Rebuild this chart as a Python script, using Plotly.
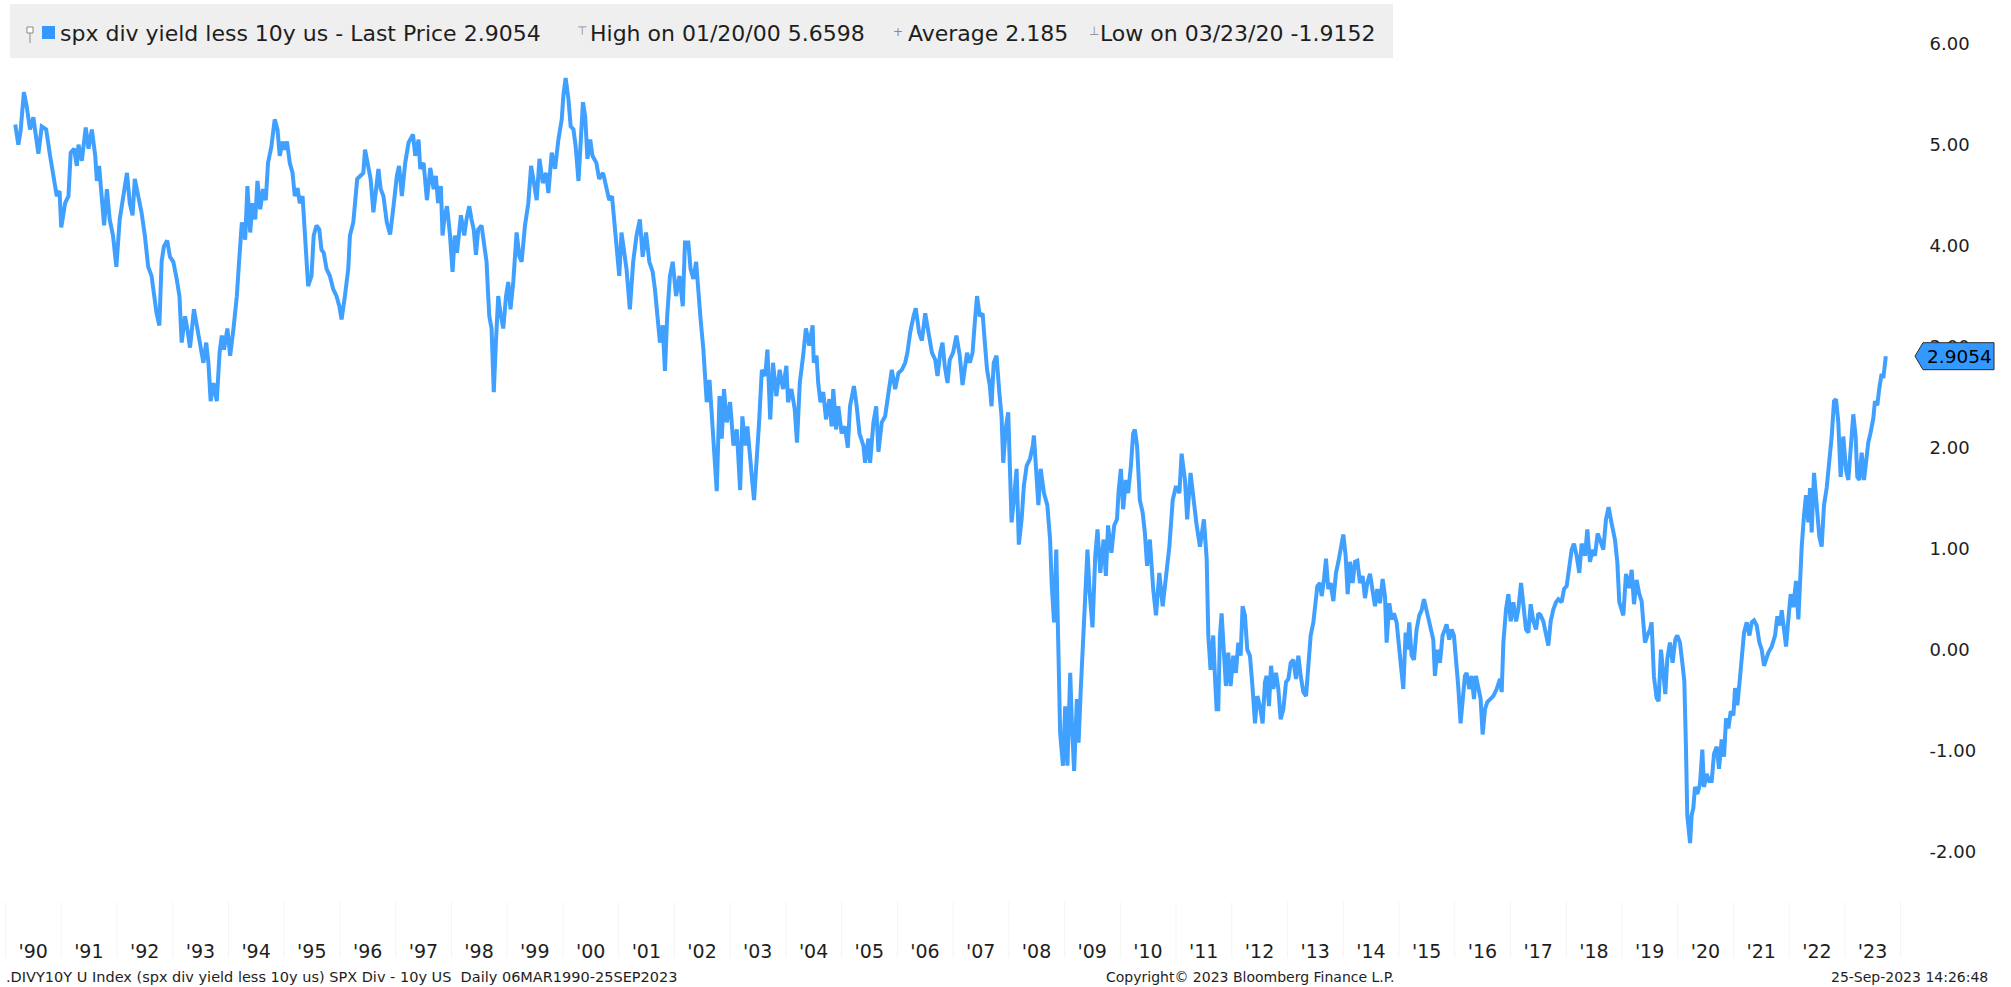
import pandas as pd
import plotly.graph_objects as go

# ---------------- data (decimal year, value) ----------------
seg_1990_1997 = [
    (1990.175, 5.20), (1990.23, 5.00), (1990.27, 5.13), (1990.33, 5.52), (1990.38, 5.38),
    (1990.44, 5.15), (1990.50, 5.27), (1990.55, 5.03), (1990.59, 4.91), (1990.65, 5.18),
    (1990.73, 5.15), (1990.80, 4.89), (1990.89, 4.62), (1990.92, 4.49), (1990.97, 4.54),
    (1991.00, 4.18), (1991.07, 4.42), (1991.13, 4.49), (1991.17, 4.92), (1991.23, 4.96),
    (1991.28, 4.79), (1991.31, 5.00), (1991.37, 4.84), (1991.44, 5.17), (1991.49, 4.96),
    (1991.55, 5.15), (1991.61, 4.89), (1991.64, 4.64), (1991.68, 4.79), (1991.73, 4.49),
    (1991.77, 4.20), (1991.82, 4.56), (1991.87, 4.26), (1991.93, 4.10), (1991.99, 3.79),
    (1992.05, 4.26), (1992.11, 4.49), (1992.18, 4.72), (1992.23, 4.42), (1992.28, 4.30),
    (1992.32, 4.66), (1992.38, 4.49), (1992.44, 4.33), (1992.50, 4.10), (1992.56, 3.79),
    (1992.62, 3.70), (1992.67, 3.50), (1992.71, 3.33), (1992.76, 3.21), (1992.80, 3.84),
    (1992.84, 3.99), (1992.90, 4.05), (1992.95, 3.89), (1993.01, 3.84), (1993.07, 3.67),
    (1993.12, 3.50), (1993.16, 3.04), (1993.22, 3.30), (1993.26, 3.18), (1993.31, 2.99),
    (1993.38, 3.37), (1993.44, 3.18), (1993.49, 3.01), (1993.55, 2.84), (1993.60, 3.04),
    (1993.64, 2.84), (1993.68, 2.46), (1993.73, 2.64), (1993.79, 2.46), (1993.84, 2.94),
    (1993.88, 3.11), (1993.92, 2.97), (1993.98, 3.18), (1994.03, 2.91), (1994.09, 3.18),
    (1994.15, 3.50), (1994.19, 3.84), (1994.24, 4.23), (1994.30, 4.06), (1994.34, 4.59),
    (1994.39, 4.13), (1994.43, 4.42), (1994.48, 4.26), (1994.52, 4.64), (1994.57, 4.36),
    (1994.62, 4.56), (1994.67, 4.45), (1994.71, 4.82), (1994.77, 4.98), (1994.83, 5.25),
    (1994.88, 5.15), (1994.92, 4.89), (1994.97, 5.03), (1995.01, 4.95), (1995.05, 5.03),
    (1995.10, 4.82), (1995.15, 4.72), (1995.19, 4.49), (1995.24, 4.57), (1995.28, 4.42),
    (1995.33, 4.49), (1995.37, 4.16), (1995.40, 3.89), (1995.43, 3.60), (1995.49, 3.70),
    (1995.53, 4.10), (1995.58, 4.20), (1995.63, 4.16), (1995.67, 3.96), (1995.71, 3.93),
    (1995.76, 3.77), (1995.82, 3.70), (1995.88, 3.57), (1995.94, 3.50), (1995.99, 3.40),
    (1996.03, 3.27), (1996.09, 3.50), (1996.15, 3.77), (1996.18, 4.10), (1996.24, 4.23),
    (1996.31, 4.66), (1996.36, 4.69), (1996.42, 4.72), (1996.45, 4.95), (1996.50, 4.82),
    (1996.55, 4.66), (1996.60, 4.33), (1996.65, 4.56), (1996.69, 4.76), (1996.73, 4.56),
    (1996.78, 4.49), (1996.84, 4.23), (1996.90, 4.11), (1996.96, 4.39), (1997.02, 4.69),
    (1997.06, 4.79), (1997.11, 4.49), (1997.17, 4.82), (1997.23, 5.02), (1997.31, 5.10),
    (1997.35, 4.89), (1997.41, 5.05),
]

seg_1997_2004 = [
    (1997.44, 4.76), (1997.50, 4.82), (1997.56, 4.45), (1997.62, 4.77), (1997.68, 4.56),
    (1997.72, 4.69), (1997.76, 4.42), (1997.81, 4.59), (1997.84, 4.10), (1997.88, 4.30),
    (1997.92, 4.39), (1997.97, 4.13), (1998.02, 3.74), (1998.06, 4.10), (1998.10, 3.93),
    (1998.17, 4.30), (1998.23, 4.10), (1998.27, 4.26), (1998.32, 4.39), (1998.36, 4.26),
    (1998.40, 4.16), (1998.44, 3.91), (1998.48, 4.16), (1998.54, 4.20), (1998.58, 4.03),
    (1998.63, 3.84), (1998.66, 3.50), (1998.68, 3.30), (1998.72, 3.18), (1998.76, 2.55),
    (1998.80, 3.07), (1998.84, 3.50), (1998.88, 3.33), (1998.93, 3.18), (1998.98, 3.50),
    (1999.02, 3.64), (1999.06, 3.37), (1999.11, 3.64), (1999.17, 4.13), (1999.22, 3.89),
    (1999.26, 3.84), (1999.32, 4.20), (1999.38, 4.42), (1999.43, 4.79), (1999.47, 4.66),
    (1999.53, 4.45), (1999.58, 4.86), (1999.64, 4.62), (1999.70, 4.72), (1999.74, 4.52),
    (1999.80, 4.92), (1999.86, 4.76), (1999.92, 5.05), (1999.98, 5.25), (2000.01, 5.49),
    (2000.05, 5.66), (2000.10, 5.45), (2000.14, 5.18), (2000.19, 5.15), (2000.23, 4.98),
    (2000.28, 4.64), (2000.32, 5.08), (2000.36, 5.42), (2000.40, 5.28), (2000.44, 4.86),
    (2000.49, 5.05), (2000.53, 4.89), (2000.60, 4.82), (2000.65, 4.66), (2000.72, 4.72),
    (2000.79, 4.56), (2000.83, 4.45), (2000.88, 4.49), (2000.92, 4.23), (2000.97, 3.96),
    (2001.01, 3.70), (2001.05, 4.13), (2001.10, 3.96), (2001.14, 3.77), (2001.20, 3.37),
    (2001.26, 3.84), (2001.32, 4.10), (2001.38, 4.26), (2001.43, 3.89), (2001.49, 4.13),
    (2001.55, 3.84), (2001.61, 3.74), (2001.65, 3.57), (2001.69, 3.30), (2001.74, 3.04),
    (2001.79, 3.21), (2001.83, 2.76), (2001.87, 3.30), (2001.92, 3.70), (2001.97, 3.84),
    (2002.03, 3.50), (2002.09, 3.70), (2002.15, 3.40), (2002.19, 4.03), (2002.25, 4.03),
    (2002.29, 3.77), (2002.34, 3.67), (2002.39, 3.84), (2002.43, 3.50), (2002.47, 3.27),
    (2002.52, 2.97), (2002.55, 2.67), (2002.58, 2.45), (2002.63, 2.67), (2002.67, 2.35),
    (2002.71, 2.02), (2002.76, 1.57), (2002.81, 2.51), (2002.85, 2.09), (2002.89, 2.58),
    (2002.94, 2.25), (2003.00, 2.45), (2003.06, 2.02), (2003.12, 2.18), (2003.18, 1.58),
    (2003.22, 2.31), (2003.27, 2.02), (2003.31, 2.21), (2003.36, 1.85), (2003.40, 1.65),
    (2003.43, 1.48), (2003.48, 1.85), (2003.52, 2.25), (2003.57, 2.77), (2003.63, 2.71),
    (2003.67, 2.97), (2003.72, 2.28), (2003.77, 2.84), (2003.83, 2.51), (2003.89, 2.77),
    (2003.95, 2.58), (2004.01, 2.81), (2004.04, 2.45), (2004.10, 2.58), (2004.16, 2.38),
    (2004.20, 2.05), (2004.25, 2.64), (2004.31, 2.91), (2004.36, 3.18), (2004.42, 3.01),
    (2004.48, 3.21),
]

seg_2004_2011 = [
    (2004.50, 2.84), (2004.55, 2.91), (2004.58, 2.64), (2004.62, 2.45), (2004.67, 2.55),
    (2004.72, 2.28), (2004.78, 2.48), (2004.82, 2.21), (2004.85, 2.58), (2004.90, 2.18),
    (2004.94, 2.41), (2005.00, 2.14), (2005.06, 2.21), (2005.11, 2.00), (2005.15, 2.41),
    (2005.22, 2.61), (2005.27, 2.41), (2005.32, 2.14), (2005.39, 2.02), (2005.42, 1.85),
    (2005.48, 2.09), (2005.51, 1.85), (2005.57, 2.25), (2005.62, 2.41), (2005.66, 1.96),
    (2005.72, 2.25), (2005.78, 2.31), (2005.84, 2.58), (2005.90, 2.77), (2005.96, 2.58),
    (2006.02, 2.74), (2006.08, 2.77), (2006.14, 2.84), (2006.18, 2.94), (2006.23, 3.14),
    (2006.29, 3.30), (2006.33, 3.38), (2006.39, 3.14), (2006.44, 3.06), (2006.50, 3.33),
    (2006.56, 3.14), (2006.62, 2.94), (2006.68, 2.87), (2006.72, 2.71), (2006.77, 2.94),
    (2006.81, 3.04), (2006.85, 2.81), (2006.90, 2.64), (2006.94, 2.87), (2007.00, 2.94),
    (2007.06, 3.11), (2007.12, 2.91), (2007.17, 2.62), (2007.21, 2.81), (2007.25, 2.94),
    (2007.30, 2.84), (2007.35, 2.94), (2007.39, 3.24), (2007.43, 3.50), (2007.48, 3.30),
    (2007.53, 3.33), (2007.57, 3.04), (2007.61, 2.77), (2007.66, 2.61), (2007.69, 2.41),
    (2007.73, 2.84), (2007.78, 2.91), (2007.83, 2.55), (2007.87, 2.31), (2007.90, 1.85),
    (2007.95, 2.21), (2007.99, 2.35), (2008.03, 1.75), (2008.05, 1.26), (2008.09, 1.48),
    (2008.14, 1.79), (2008.18, 1.04), (2008.23, 1.29), (2008.27, 1.62), (2008.32, 1.82),
    (2008.38, 1.89), (2008.43, 2.02), (2008.45, 2.12), (2008.50, 1.68), (2008.53, 1.43),
    (2008.57, 1.79), (2008.63, 1.55), (2008.69, 1.43), (2008.74, 1.09), (2008.77, 0.63),
    (2008.81, 0.27), (2008.85, 0.99), (2008.89, -0.23), (2008.92, -0.83), (2008.97, -1.15),
    (2009.01, -0.56), (2009.05, -1.15), (2009.10, -0.23), (2009.13, -0.73), (2009.17, -1.20),
    (2009.22, -0.49), (2009.25, -0.92), (2009.29, -0.39), (2009.32, -0.06), (2009.36, 0.27),
    (2009.41, 0.99), (2009.45, 0.56), (2009.50, 0.22), (2009.55, 0.93), (2009.59, 1.19),
    (2009.64, 0.76), (2009.70, 1.09), (2009.74, 0.73), (2009.78, 1.23), (2009.84, 0.96),
    (2009.89, 1.23), (2009.94, 1.29), (2009.97, 1.58), (2010.01, 1.79), (2010.05, 1.39),
    (2010.10, 1.68), (2010.14, 1.55), (2010.19, 1.82), (2010.23, 2.14), (2010.26, 2.18),
    (2010.30, 2.02), (2010.35, 1.48), (2010.40, 1.36), (2010.44, 1.16), (2010.48, 0.83),
    (2010.53, 1.09), (2010.59, 0.60), (2010.64, 0.34), (2010.70, 0.76), (2010.76, 0.43),
    (2010.82, 0.76), (2010.88, 1.02), (2010.94, 1.48), (2011.00, 1.62), (2011.06, 1.55),
    (2011.10, 1.94), (2011.16, 1.68), (2011.20, 1.29), (2011.26, 1.75), (2011.31, 1.48),
    (2011.37, 1.23), (2011.43, 1.02), (2011.50, 1.29), (2011.55, 0.90),
]

seg_2011_2019 = [
    (2011.579, 0.14), (2011.620, -0.20), (2011.668, 0.14), (2011.698, -0.26), (2011.728, -0.59),
    (2011.758, -0.59), (2011.788, 0.14), (2011.818, 0.36), (2011.860, -0.13), (2011.895, -0.36),
    (2011.937, -0.03), (2011.979, -0.36), (2012.027, -0.06), (2012.075, -0.23), (2012.117, 0.07),
    (2012.159, -0.06), (2012.194, 0.43), (2012.236, 0.34), (2012.278, 0.00), (2012.326, -0.06),
    (2012.374, -0.39), (2012.416, -0.73), (2012.458, -0.46), (2012.505, -0.56), (2012.553, -0.73),
    (2012.595, -0.32), (2012.625, -0.26), (2012.667, -0.56), (2012.703, -0.16), (2012.745, -0.39),
    (2012.792, -0.23), (2012.834, -0.39), (2012.876, -0.69), (2012.924, -0.59), (2012.972, -0.32),
    (2013.014, -0.29), (2013.056, -0.13), (2013.103, -0.10), (2013.151, -0.29), (2013.193, -0.06),
    (2013.235, -0.26), (2013.283, -0.42), (2013.331, -0.46), (2013.373, -0.13), (2013.414, 0.14),
    (2013.462, 0.27), (2013.492, 0.46), (2013.534, 0.63), (2013.582, 0.66), (2013.612, 0.53),
    (2013.654, 0.70), (2013.689, 0.90), (2013.731, 0.60), (2013.773, 0.66), (2013.821, 0.48),
    (2013.869, 0.76), (2013.911, 0.87), (2013.953, 0.99), (2014.000, 1.14), (2014.042, 0.93),
    (2014.078, 0.55), (2014.120, 0.87), (2014.168, 0.66), (2014.210, 0.87), (2014.252, 0.88),
    (2014.299, 0.66), (2014.347, 0.73), (2014.389, 0.51), (2014.431, 0.66), (2014.479, 0.75),
    (2014.527, 0.56), (2014.569, 0.43), (2014.610, 0.60), (2014.658, 0.46), (2014.706, 0.70),
    (2014.748, 0.53), (2014.778, 0.07), (2014.826, 0.46), (2014.868, 0.30), (2014.909, 0.36),
    (2014.957, 0.27), (2015.005, 0.00), (2015.047, -0.32), (2015.077, -0.39), (2015.119, 0.17),
    (2015.149, 0.00), (2015.184, 0.27), (2015.226, -0.06), (2015.268, -0.10), (2015.316, 0.20),
    (2015.364, 0.34), (2015.406, 0.39), (2015.448, 0.50), (2015.495, 0.39), (2015.543, 0.27),
    (2015.585, 0.20), (2015.615, 0.10), (2015.645, -0.26), (2015.687, 0.00), (2015.735, -0.13),
    (2015.782, 0.14), (2015.824, 0.20), (2015.854, 0.25), (2015.902, 0.10), (2015.944, 0.20),
    (2015.986, 0.14), (2016.022, -0.06), (2016.063, -0.36), (2016.105, -0.73), (2016.141, -0.46),
    (2016.183, -0.26), (2016.213, -0.23), (2016.261, -0.39), (2016.303, -0.26), (2016.345, -0.49),
    (2016.380, -0.26), (2016.422, -0.39), (2016.464, -0.49), (2016.500, -0.84), (2016.542, -0.59),
    (2016.584, -0.52), (2016.632, -0.49), (2016.691, -0.46), (2016.751, -0.39), (2016.781, -0.32),
    (2016.811, -0.29), (2016.841, -0.42), (2016.871, 0.07), (2016.919, 0.40), (2016.961, 0.55),
    (2017.002, 0.28), (2017.050, 0.47), (2017.098, 0.28), (2017.140, 0.40), (2017.188, 0.66),
    (2017.229, 0.40), (2017.277, 0.20), (2017.319, 0.17), (2017.361, 0.45), (2017.409, 0.28),
    (2017.457, 0.20), (2017.499, 0.36), (2017.540, 0.34), (2017.588, 0.28), (2017.636, 0.17),
    (2017.678, 0.04), (2017.720, 0.28), (2017.768, 0.40), (2017.816, 0.47), (2017.857, 0.50),
    (2017.917, 0.47), (2017.959, 0.60), (2018.007, 0.63), (2018.055, 0.83), (2018.097, 0.99),
    (2018.138, 1.05), (2018.186, 0.93), (2018.234, 0.76), (2018.276, 1.05), (2018.336, 0.93),
    (2018.378, 1.19), (2018.425, 0.87), (2018.473, 0.99), (2018.515, 0.93), (2018.563, 1.15),
    (2018.605, 1.09), (2018.665, 0.99), (2018.713, 1.29), (2018.760, 1.41), (2018.814, 1.25),
    (2018.874, 1.09), (2018.916, 0.87), (2018.952, 0.47),
]

seg_2019_2023 = [
    (2019.024, 0.34), (2019.072, 0.75), (2019.132, 0.61), (2019.174, 0.79), (2019.216, 0.45),
    (2019.263, 0.69), (2019.311, 0.55), (2019.353, 0.48), (2019.383, 0.27), (2019.413, 0.07),
    (2019.455, 0.14), (2019.503, 0.20), (2019.532, 0.27), (2019.574, -0.27), (2019.622, -0.48),
    (2019.658, -0.51), (2019.700, 0.00), (2019.742, -0.27), (2019.778, -0.44), (2019.814, -0.09),
    (2019.861, 0.07), (2019.909, -0.13), (2019.957, 0.10), (2019.993, 0.14), (2020.041, 0.07),
    (2020.083, -0.13), (2020.119, -0.31), (2020.148, -0.96), (2020.172, -1.64), (2020.222, -1.9152),
    (2020.250, -1.64), (2020.280, -1.57), (2020.310, -1.36), (2020.352, -1.43), (2020.400, -1.33),
    (2020.441, -0.99), (2020.471, -1.36), (2020.519, -1.23), (2020.567, -1.30), (2020.609, -1.30),
    (2020.651, -1.03), (2020.699, -0.96), (2020.740, -1.18), (2020.788, -0.89), (2020.830, -1.06),
    (2020.866, -0.68), (2020.908, -0.78), (2020.950, -0.61), (2020.998, -0.65), (2021.027, -0.38),
    (2021.069, -0.55), (2021.117, -0.27), (2021.147, -0.10), (2021.189, 0.17), (2021.237, 0.27),
    (2021.285, 0.14), (2021.327, 0.27), (2021.368, 0.29), (2021.416, 0.24), (2021.464, 0.07),
    (2021.506, 0.00), (2021.548, -0.16), (2021.584, -0.10), (2021.626, -0.03), (2021.685, 0.03),
    (2021.745, 0.14), (2021.787, 0.33), (2021.835, 0.24), (2021.865, 0.39), (2021.907, 0.20),
    (2021.943, 0.03), (2021.984, 0.30), (2022.026, 0.55), (2022.074, 0.42), (2022.122, 0.68),
    (2022.164, 0.30), (2022.194, 0.75), (2022.224, 1.02), (2022.265, 1.33), (2022.301, 1.53),
    (2022.343, 1.26), (2022.373, 1.60), (2022.403, 1.16), (2022.445, 1.75), (2022.493, 1.43),
    (2022.540, 1.12), (2022.582, 1.02), (2022.624, 1.43), (2022.672, 1.60), (2022.720, 1.85),
    (2022.762, 2.11), (2022.804, 2.46), (2022.840, 2.48), (2022.881, 2.25), (2022.923, 1.71),
    (2022.971, 2.11), (2023.019, 1.78), (2023.061, 1.68), (2023.103, 2.01), (2023.150, 2.33),
    (2023.192, 2.11), (2023.222, 1.71), (2023.258, 1.68), (2023.300, 1.95), (2023.342, 1.68),
    (2023.378, 1.88), (2023.419, 2.05), (2023.461, 2.15), (2023.509, 2.29), (2023.539, 2.46),
    (2023.581, 2.42), (2023.617, 2.59), (2023.659, 2.73), (2023.689, 2.69), (2023.719, 2.83),
    (2023.734, 2.9054),
]

y_tick_vals = [-2, -1, 0, 1, 2, 3, 4, 5, 6]
y_tick_text = ["-2.00", "-1.00", "0.00", "1.00", "2.00", "3.00", "4.00", "5.00", "6.00"]
x_tick_years = list(range(1990, 2024))
x_tick_text = ["'90", "'91", "'92", "'93", "'94", "'95", "'96", "'97", "'98", "'99",
               "'00", "'01", "'02", "'03", "'04", "'05", "'06", "'07", "'08", "'09",
               "'10", "'11", "'12", "'13", "'14", "'15", "'16", "'17", "'18", "'19",
               "'20", "'21", "'22", "'23"]

legend_main = "spx div yield less 10y us - Last Price 2.9054"
legend_high = "High on 01/20/00 5.6598"
legend_avg = "Average 2.185"
legend_low = "Low on 03/23/20 -1.9152"
footer_left = ".DIVY10Y U Index (spx div yield less 10y us) SPX Div - 10y US  Daily 06MAR1990-25SEP2023"
footer_mid = "Copyright\u00a9 2023 Bloomberg Finance L.P."
footer_right = "25-Sep-2023 14:26:48"

# ---------------- helpers ----------------
def dec_to_ts(t):
    y = int(t)
    start = pd.Timestamp(year=y, month=1, day=1)
    end = pd.Timestamp(year=y + 1, month=1, day=1)
    return start + (end - start) * (t - y)


points = seg_1990_1997 + seg_1997_2004 + seg_2004_2011 + seg_2011_2019 + seg_2019_2023
dates = [dec_to_ts(t) for t, _ in points]
values = [v for _, v in points]
last_val = values[-1]

W, H = 2011, 987
PL, PR, PT, PB = 0, 1916, 0, 898
Y_RANGE = [-2.459, 6.432]
X_RANGE = [dec_to_ts(1989.901), dec_to_ts(2024.275)]


def px(x):
    return (x - PL) / (PR - PL)


def py(y):
    return (PB - y) / (PB - PT)


FONT = "DejaVu Sans"
LINE_BLUE = "#40a0ff"
TAG_BLUE = "#3399ff"
TXT = "#1e1e1e"

fig = go.Figure()
fig.add_trace(go.Scatter(
    x=dates, y=values, mode="lines",
    line=dict(color=LINE_BLUE, width=4),
    hoverinfo="skip", showlegend=False,
))

shapes = []
# legend background box
shapes.append(dict(type="rect", xref="paper", yref="paper",
                   x0=px(10), x1=px(1393), y0=py(58), y1=py(4),
                   fillcolor="#efefef", line=dict(width=0), layer="below"))
# small pin icon
shapes.append(dict(type="rect", xref="paper", yref="paper",
                   x0=px(27), x1=px(33), y0=py(33), y1=py(27),
                   fillcolor="#ffffff", line=dict(color="#8a8a8a", width=1), layer="above"))
shapes.append(dict(type="line", xref="paper", yref="paper",
                   x0=px(30), x1=px(30), y0=py(43), y1=py(33),
                   line=dict(color="#8a8a8a", width=1), layer="above"))
# blue square
shapes.append(dict(type="rect", xref="paper", yref="paper",
                   x0=px(42), x1=px(55), y0=py(39), y1=py(26),
                   fillcolor=TAG_BLUE, line=dict(width=0), layer="above"))
# faint year separators in the axis band
for yr in range(1990, 2025):
    shapes.append(dict(type="line", xref="x", yref="paper",
                       x0=pd.Timestamp(year=yr, month=1, day=1),
                       x1=pd.Timestamp(year=yr, month=1, day=1),
                       y0=py(902), y1=py(958),
                       line=dict(color="#f4f4f4", width=1), layer="below"))
# last price tag
hh = 13.5 * (Y_RANGE[1] - Y_RANGE[0]) / (PB - PT)
tag_path = (f"M {px(1915)},{last_val} L {px(1923)},{last_val + hh} "
            f"L {px(1994)},{last_val + hh} L {px(1994)},{last_val - hh} "
            f"L {px(1923)},{last_val - hh} Z")
shapes.append(dict(type="path", xref="paper", yref="y", path=tag_path,
                   fillcolor=TAG_BLUE, line=dict(color="#2a2a2a", width=1), layer="above"))

annotations = []


def add_text(text, x, y, size, color=TXT, xanchor="left", yref="paper", yv=None):
    annotations.append(dict(
        text=text, xref="paper", yref=yref,
        x=px(x), y=(py(y) if yv is None else yv),
        xanchor=xanchor, yanchor="middle", showarrow=False,
        font=dict(family=FONT, size=size, color=color),
    ))


add_text(legend_main, 58, 33, 22)
add_text("\u22a4", 575, 31, 12, color="#8a8a8a")
add_text(legend_high, 588, 33, 22)
add_text("+", 891, 32, 12, color="#8a8a8a")
add_text(legend_avg, 906, 33, 22)
add_text("\u22a5", 1087, 31, 12, color="#8a8a8a")
add_text(legend_low, 1098, 33, 22)

add_text(footer_left, 4, 977, 14.5)
add_text(footer_mid, 1250, 977, 14, xanchor="center")
add_text(footer_right, 1990, 977, 14, xanchor="right")

# price on the tag
add_text(f"{last_val:.4f}", 1925, 0, 18.5, color="#000000", yref="y", yv=last_val)

fig.update_layout(
    width=W, height=H,
    margin=dict(l=PL, r=W - PR, t=PT, b=H - PB, pad=0),
    paper_bgcolor="#ffffff", plot_bgcolor="#ffffff",
    showlegend=False,
    shapes=shapes, annotations=annotations,
    font=dict(family=FONT, color=TXT),
    xaxis=dict(
        type="date", range=X_RANGE, automargin=False,
        showgrid=False, zeroline=False, showline=False,
        tickmode="array",
        tickvals=[pd.Timestamp(year=y, month=7, day=1) for y in x_tick_years],
        ticktext=x_tick_text,
        ticks="outside", ticklen=36, tickcolor="rgba(0,0,0,0)",
        tickfont=dict(family=FONT, size=19, color=TXT),
    ),
    yaxis=dict(
        side="right", range=Y_RANGE, automargin=False,
        showgrid=False, zeroline=False, showline=False,
        tickmode="array", tickvals=y_tick_vals, ticktext=y_tick_text,
        ticks="outside", ticklen=9, tickcolor="rgba(0,0,0,0)",
        tickfont=dict(family=FONT, size=18, color=TXT),
    ),
)

fig.write_html(
    "out.html",
    config={"displayModeBar": False},
    post_script="document.body.style.margin='0';document.body.style.padding='0';"
                "document.documentElement.style.overflow='hidden';",
)
